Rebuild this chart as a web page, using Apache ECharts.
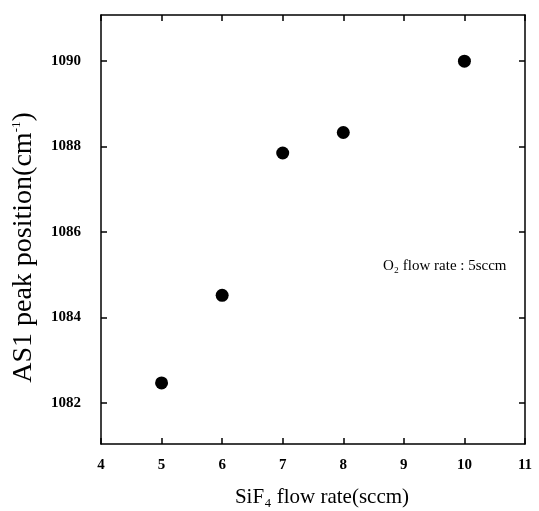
<!DOCTYPE html>
<html>
<head>
<meta charset="utf-8">
<script src="https://cdn.jsdelivr.net/npm/echarts@6/dist/echarts.min.js"></script>
<style>
html,body{margin:0;padding:0;background:#fff;}
#chart{width:539px;height:511px;}
</style>
</head>
<body>
<div id="chart"></div>
<script>
// Data
var sif4Flow = [5, 6, 7, 8, 10];
var peakPosition = [1082.47, 1084.52, 1087.85, 1088.33, 1090.0];
var xTicks = [4, 5, 6, 7, 8, 9, 10, 11];
var yTicks = [1082, 1084, 1086, 1088, 1090];
var xTitle = 'SiF\u2084 flow rate(sccm)';
var yTitleMain = 'AS1 peak position(cm';
var yTitleSup = '-1';
var noteText = 'O\u2082 flow rate : 5sccm';

var points = sif4Flow.map(function (x, i) { return [x, peakPosition[i]]; });
var serif = '"Liberation Serif", "DejaVu Serif", serif';

var chart = echarts.init(document.getElementById('chart'));
var axisLine = { show: true, lineStyle: { color: '#000', width: 1.5 } };
var tickStyle = { color: '#000', width: 1.5 };
chart.setOption({
  animation: false,
  backgroundColor: '#fff',
  grid: { left: 101, right: 14, top: 15, bottom: 67, outerBoundsMode: 'none', containLabel: false },
  xAxis: [{
    type: 'value', min: 4, max: 11, interval: 1,
    axisLine: axisLine,
    axisTick: { show: true, inside: true, length: 6, lineStyle: tickStyle },
    axisLabel: { color: '#000', fontFamily: serif, fontWeight: 'bold', fontSize: 15, margin: 14 },
    splitLine: { show: false },
    name: xTitle, nameLocation: 'middle', nameGap: 43,
    nameTextStyle: { color: '#000', fontFamily: serif, fontSize: 21, padding: [0, 0, 0, 18] }
  }, {
    type: 'value', position: 'top', min: 4, max: 11, interval: 1,
    axisLine: axisLine,
    axisTick: { show: true, inside: true, length: 6, lineStyle: tickStyle },
    axisLabel: { show: false }, splitLine: { show: false }
  }],
  yAxis: [{
    type: 'value', min: 1081.04, max: 1091.08,
    axisLine: axisLine,
    axisTick: { show: true, inside: true, length: 6, customValues: yTicks, lineStyle: tickStyle },
    axisLabel: {
      color: '#000', fontFamily: serif, fontWeight: 'bold', fontSize: 15, margin: 20,
      customValues: yTicks,
      formatter: function (v) { return String(v); }
    },
    splitLine: { show: false },
    name: '{m|' + yTitleMain + '}{s|' + yTitleSup + '}{m|)}',
    nameLocation: 'middle', nameGap: 63,
    nameTextStyle: {
      color: '#000', fontFamily: serif, fontSize: 28, padding: [0, 36, 0, 0],
      rich: {
        m: { fontFamily: serif, fontSize: 28, color: '#000' },
        s: { fontFamily: serif, fontSize: 13, color: '#000', verticalAlign: 'top', padding: [0, 0, 14, 0] }
      }
    }
  }, {
    type: 'value', position: 'right', min: 1081.04, max: 1091.08,
    axisLine: axisLine,
    axisTick: { show: true, inside: true, length: 6, customValues: yTicks, lineStyle: tickStyle },
    axisLabel: { show: false }, splitLine: { show: false }
  }],
  series: [{
    type: 'scatter',
    data: points,
    symbol: 'circle',
    symbolSize: 13,
    itemStyle: { color: '#000', opacity: 1 }
  }],
  graphic: [{
    type: 'text',
    left: 383, top: 259,
    style: { text: noteText, fill: '#000', font: '15px ' + serif }
  }]
});
</script>
</body>
</html>
